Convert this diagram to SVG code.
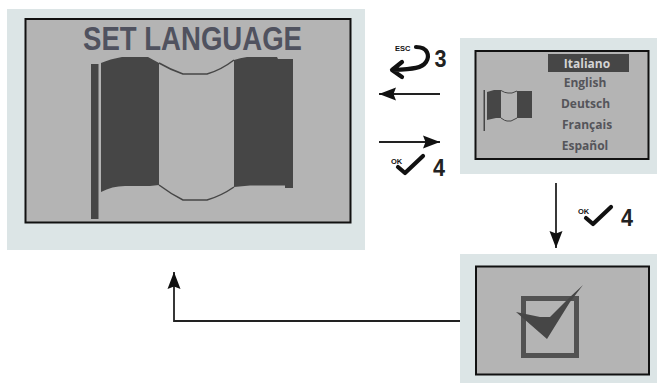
<svg xmlns="http://www.w3.org/2000/svg" width="657" height="383" viewBox="0 0 657 383">
<style>
.panel{fill:#dce5e6}
.screen{fill:#b4b4b4;stroke:#111;stroke-width:2}
.dark{fill:#464646}
.thin{fill:none;stroke:#464646}
.lang{font-family:"Open Sans","Liberation Sans",sans-serif;font-weight:700;font-size:12px;fill:#55555a;text-anchor:middle}
.num{font-family:"Liberation Sans",sans-serif;font-weight:700;font-size:24px;fill:#222;text-anchor:middle}
.tiny{font-family:"Liberation Sans",sans-serif;font-weight:700;font-size:7.500px;fill:#111}
.conn{fill:none;stroke:#222;stroke-width:1.800}
.icon{fill:none;stroke:#111;stroke-width:4.200;stroke-linecap:round;stroke-linejoin:round}
</style>
<defs>
<marker id="arrow" markerUnits="userSpaceOnUse" markerWidth="18" markerHeight="14" refX="17" refY="7" orient="auto">
<path d="M0 0.500L17 7L0 13.500L2.500 7Z" fill="#111"/>
</marker>
</defs>
<g id="node-set-language">
<rect class="panel" x="7" y="9" width="358" height="241"/>
<rect class="screen" x="25.500" y="19" width="325" height="203.500"/>
<text x="192.500" y="50" text-anchor="middle" textLength="219" lengthAdjust="spacingAndGlyphs" style="font-family:'Liberation Sans',sans-serif;font-weight:700;font-size:34px;fill:#50525f">SET LANGUAGE</text>
<rect class="dark" x="91" y="64" width="7.500" height="155"/>
<path class="dark" d="M101 63Q110 59 122 57L148 57L159 63V185L150 186H125Q112 186 101 192Z"/>
<path class="dark" d="M234 60Q240 58 247 57H277L278 59H293V188H285V185.500L250 185.500L234 187Z"/>
<path class="thin" stroke-width="1.500" d="M159 63Q171 70 183 74H207Q221 70 234 60M159 185Q171 194 183 200H207Q221 196 234 187"/>
</g>
<g id="node-language-list">
<rect class="panel" x="460" y="38" width="197" height="136"/>
<rect class="screen" x="475.500" y="51" width="173" height="108"/>
<rect class="dark" x="548" y="54" width="81" height="18"/>
<text class="lang" x="587" y="68" style="fill:#d4d4d4">Italiano</text>
<text class="lang" x="585" y="87">English</text>
<text class="lang" x="585.500" y="108">Deutsch</text>
<text class="lang" x="587" y="129">Français</text>
<text class="lang" x="585" y="150">Español</text>
<rect class="dark" x="483.500" y="90" width="1.500" height="41"/>
<path class="dark" d="M487 92L494 90H501V118H496L487 120Z"/>
<path class="dark" d="M517 91H532V118H517Z"/>
<path class="thin" d="M501 90.500Q505 93 508 93H512L517 91M501 118Q505 121 507 121H511L517 118"/>
</g>
<g id="node-confirm">
<rect class="panel" x="460" y="254" width="197" height="129"/>
<rect class="screen" x="476" y="266.500" width="173" height="108"/>
<rect x="523.500" y="298.500" width="53" height="57" fill="none" stroke="#525252" stroke-width="5"/>
<path class="dark" d="M516 312L540 317H550L570 297L583 285L570 302L547 339Z"/>
</g>
<g id="connectors">
<path class="conn" d="M440 94H379" marker-end="url(#arrow)"/>
<path class="conn" d="M379 142H440" marker-end="url(#arrow)"/>
<path class="conn" d="M556 183V248" marker-end="url(#arrow)"/>
<path class="conn" d="M460 321H174V272" marker-end="url(#arrow)"/>
</g>
<g id="key-esc-3">
<text class="tiny" x="395" y="51">ESC</text>
<path class="icon" d="M416 47C428 47 430 56 426 62C422 68 414 69 393 70M402 62L392 70L402 77"/>
<text class="num" x="440.500" y="67" textLength="12" lengthAdjust="spacingAndGlyphs">3</text>
</g>
<g id="key-ok-4-left">
<text class="tiny" x="391" y="164">OK</text>
<path class="icon" d="M398 167L405 173L423 156"/>
<text class="num" x="439" y="176" textLength="12" lengthAdjust="spacingAndGlyphs">4</text>
</g>
<g id="key-ok-4-down">
<text class="tiny" x="578" y="214">OK</text>
<path class="icon" d="M586 218L593 224L611 207"/>
<text class="num" x="627" y="226" textLength="12" lengthAdjust="spacingAndGlyphs">4</text>
</g>
</svg>
